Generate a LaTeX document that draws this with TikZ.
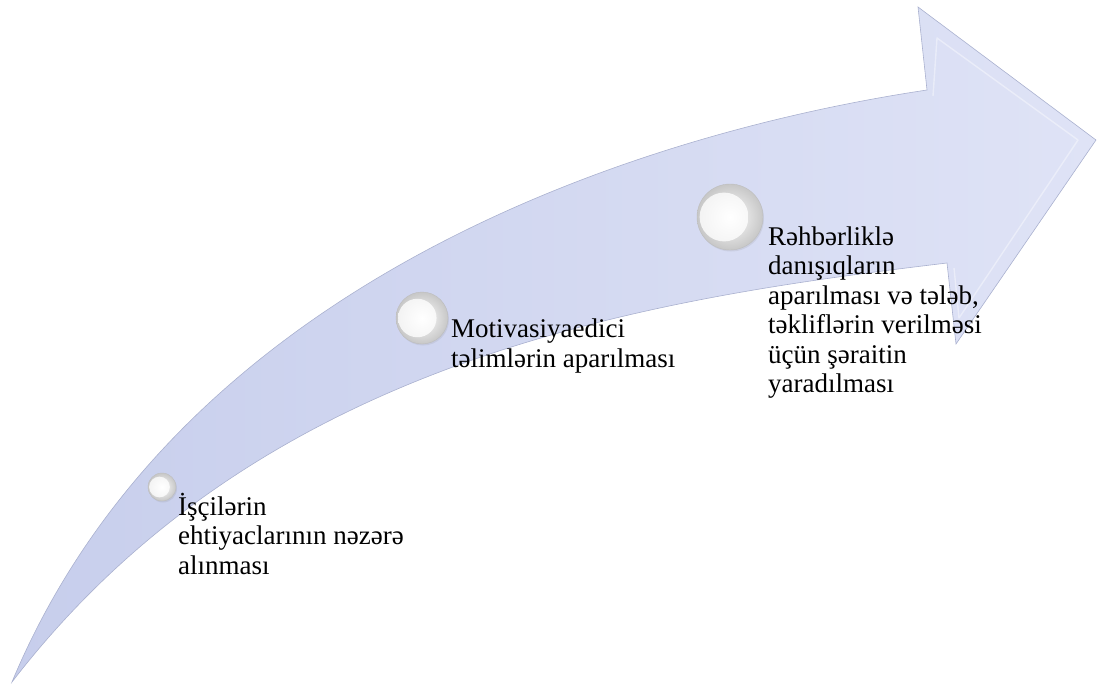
\documentclass[tikz,border=0pt]{standalone}
\usepackage{fontspec}
\IfFontExistsTF{LiberationSerif-Regular.ttf}
  {\setmainfont{LiberationSerif-Regular.ttf}}
  {\setmainfont{Liberation Serif}}
\usetikzlibrary{shadows}
\definecolor{arrowlo}{RGB}{199,206,236}
\definecolor{arrowhi}{RGB}{223,227,246}
\definecolor{arrowedge}{RGB}{170,177,207}
\tikzset{
  steptext/.style={anchor=base west, align=left, inner sep=0pt,
    font=\rmfamily\fontsize{27}{29.5}\selectfont},
  pearl/.style={circle, minimum size=#1, inner sep=0pt,
    draw=black!26, line width=0.4pt,
    shade, inner color=white, outer color=black!22,
    drop shadow={opacity=0.15, shadow xshift=1pt, shadow yshift=-1.5pt},
    path picture={\shade[inner color=white, outer color=black!5]
      ([xshift=-0.09*#1]path picture bounding box.center) circle (0.37*#1);}}
}
\begin{document}
\begin{tikzpicture}[x=1pt,y=-1pt]
\useasboundingbox (0,0) rectangle (1098,686);

% curved arrow: upper edge, head, lower edge back to the tail
\coordinate (tail)  at (12,682);
\coordinate (necku) at (927,90);
\coordinate (headt) at (918,7);
\coordinate (tip)   at (1096,140);
\coordinate (headb) at (956,344);
\coordinate (neckl) at (947,263);
\shade[left color=arrowlo, right color=arrowhi, draw=arrowedge, line width=0.6pt]
  (tail) .. controls (177,286) and (627,135) .. (necku)
  -- (headt) -- (tip) -- (headb) -- (neckl)
         .. controls (647,299) and (262,357) .. (tail) -- cycle;

% bevel on the arrow head
\draw[white, opacity=0.4, line width=1.4pt, line join=round]
  (933,96) -- (937,38) -- (1078,140) -- (959,318) -- (954,268);

% pearls
\node[pearl=28] (p1) at (162,487) {};
\node[pearl=52] (p2) at (422,318) {};
\node[pearl=66] (p3) at (730,217) {};

% step texts (anchored at the baseline of the last line)
\node[steptext] (t1) at (178,574) {İşçilərin\\ehtiyaclarının nəzərə\\alınması};
\node[steptext] (t2) at (451,367) {Motivasiyaedici\\təlimlərin aparılması};
\node[steptext] (t3) at (768,392.5) {Rəhbərliklə\\danışıqların\\aparılması və tələb,\\təkliflərin verilməsi\\üçün şəraitin\\yaradılması};
\end{tikzpicture}
\end{document}
